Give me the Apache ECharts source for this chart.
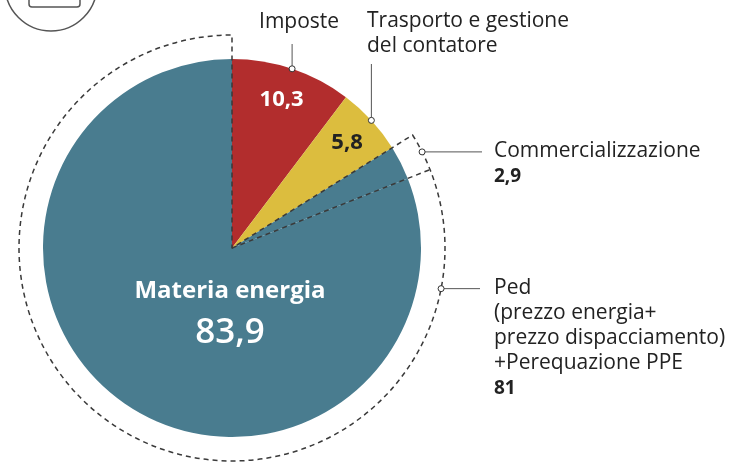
<!DOCTYPE html>
<html>
<head>
<meta charset="utf-8">
<script src="https://cdn.jsdelivr.net/npm/echarts@6/dist/echarts.min.js"></script>
<style>
  html, body { margin: 0; padding: 0; background: #fff; }
  #chart { width: 729px; height: 463px; }
</style>
</head>
<body>
<div id="chart"></div>
<script>
// data
const categories = ['Imposte', 'Trasporto e gestione\ndel contatore', 'Commercializzazione', 'Ped\n(prezzo energia+\nprezzo dispacciamento)\n+Perequazione PPE'];
const values = [10.3, 5.8, 2.9, 81];
const colors = ['#b22d2d', '#dcbd3e', '#497c8f', '#497c8f'];
const groupName = 'Materia energia';
const groupValue = 83.9;

const cx = 232, cy = 248, R = 189, R2 = 213;
const font = '"Open Sans", sans-serif';
const dash = [5, 4];
const fmt = v => String(v).replace('.', ',');
const total = values.reduce((a, b) => a + b, 0);

// angle in degrees, clockwise from 12 o'clock
function startAngle(i) {
  let s = 0;
  for (let k = 0; k < i; k++) s += values[k];
  return s / total * 360;
}
function midAngle(i) {
  return startAngle(i) + values[i] / total * 180;
}
function polar(deg, r) {
  const a = deg * Math.PI / 180;
  return [cx + r * Math.sin(a), cy - r * Math.cos(a)];
}

const anchors = [polar(midAngle(0), R), polar(midAngle(1), R), polar(midAngle(2), R2), polar(101, R2)];
const sepEnd = polar(startAngle(3), R2);

const chart = echarts.init(document.getElementById('chart'));

const option = {
  animation: false,
  backgroundColor: '#fff',
  textStyle: { fontFamily: font },
  graphic: [
    { type: 'circle', shape: { cx: 51, cy: -15, r: 46 }, style: { fill: 'none', stroke: '#555', lineWidth: 1.5 }, silent: true },
    { type: 'rect', shape: { x: 29, y: -20, width: 51, height: 27, r: 3 }, style: { fill: 'none', stroke: '#555', lineWidth: 1.5 }, silent: true },
    // dashed divider between Commercializzazione and Ped
    { type: 'line', z: 10, silent: true,
      shape: { x1: cx, y1: cy, x2: sepEnd[0], y2: sepEnd[1] },
      style: { stroke: '#3a3a3a', lineWidth: 1.5, lineDash: dash } }
  ].concat(anchors.map(p => ({
    type: 'circle', z: 10, silent: true,
    shape: { cx: p[0], cy: p[1], r: 3 },
    style: { fill: '#fff', stroke: '#333', lineWidth: 1 }
  }))),
  series: [
    {
      name: 'quote',
      type: 'pie',
      center: [cx, cy],
      radius: [0, R],
      startAngle: 90,
      clockwise: true,
      silent: true,
      avoidLabelOverlap: false,
      data: values.map((v, i) => ({
        name: categories[i],
        value: v,
        itemStyle: { color: colors[i] },
        label: { show: i !== 2, color: i === 1 ? '#222' : '#fff' }
      })),
      label: {
        position: 'inside',
        fontFamily: font,
        fontSize: 22,
        fontWeight: 'bold',
        formatter: p => p.dataIndex === 3
          ? '{a|' + groupName + '}\n{n|' + fmt(groupValue) + '}'
          : fmt(p.value),
        rich: {
          a: { fontFamily: font, fontSize: 24, fontWeight: 'bold', color: '#fff', lineHeight: 34 },
          n: { fontFamily: font, fontSize: 35, fontWeight: 600, color: '#fff', lineHeight: 50 }
        }
      },
      labelLine: { show: false },
      labelLayout: p => {
        if (p.dataIndex === 3) return { x: cx - 2, y: 274, align: 'center', verticalAlign: 'top' };
        const q = polar(midAngle(p.dataIndex), 156);
        return { x: q[0], y: q[1], align: 'center', verticalAlign: 'middle' };
      }
    },
    {
      // dashed outline around the "Materia energia" group
      name: 'gruppo',
      type: 'pie',
      center: [cx, cy],
      radius: [0, R2],
      startAngle: 90,
      clockwise: true,
      silent: true,
      label: { show: false },
      labelLine: { show: false },
      data: [
        { name: categories[0], value: values[0], itemStyle: { color: 'transparent', borderWidth: 0 } },
        { name: categories[1], value: values[1], itemStyle: { color: 'transparent', borderWidth: 0 } },
        { name: groupName, value: groupValue, itemStyle: { color: 'transparent', borderColor: '#3a3a3a', borderWidth: 1.5, borderType: dash } }
      ]
    },
    {
      name: 'etichette',
      type: 'pie',
      center: [cx, cy],
      radius: [0, R2],
      startAngle: 90,
      clockwise: true,
      silent: true,
      avoidLabelOverlap: false,
      itemStyle: { color: 'transparent', borderWidth: 0 },
      data: values.map((v, i) => ({ name: categories[i], value: v })),
      label: {
        show: true,
        position: 'outside',
        fontFamily: font,
        fontSize: 21,
        color: '#222',
        lineHeight: 25,
        formatter: p => p.dataIndex < 2
          ? categories[p.dataIndex]
          : categories[p.dataIndex] + '\n{b|' + fmt(p.value) + '}',
        rich: {
          b: { fontFamily: font, fontSize: 19, fontWeight: 'bold', color: '#222', lineHeight: 25 }
        }
      },
      labelLine: { show: true, lineStyle: { color: '#555', width: 1 } },
      labelLayout: p => {
        const i = p.dataIndex;
        const a = anchors[i];
        if (i === 0) {
          const e = [a[0], 44];
          return { x: a[0] + 7, y: 22, align: 'center', verticalAlign: 'middle', labelLinePoints: [a, e, e] };
        }
        if (i === 1) {
          const e = [a[0], 64];
          return { x: 367, y: 9, align: 'left', verticalAlign: 'top', labelLinePoints: [a, e, e] };
        }
        if (i === 2) {
          const e = [482, a[1]];
          return { x: 494, y: 139, align: 'left', verticalAlign: 'top', labelLinePoints: [a, e, e] };
        }
        const e = [480, a[1]];
        return { x: 494, y: 276, align: 'left', verticalAlign: 'top', labelLinePoints: [a, e, e] };
      }
    }
  ]
};

chart.setOption(option);
</script>
</body>
</html>
